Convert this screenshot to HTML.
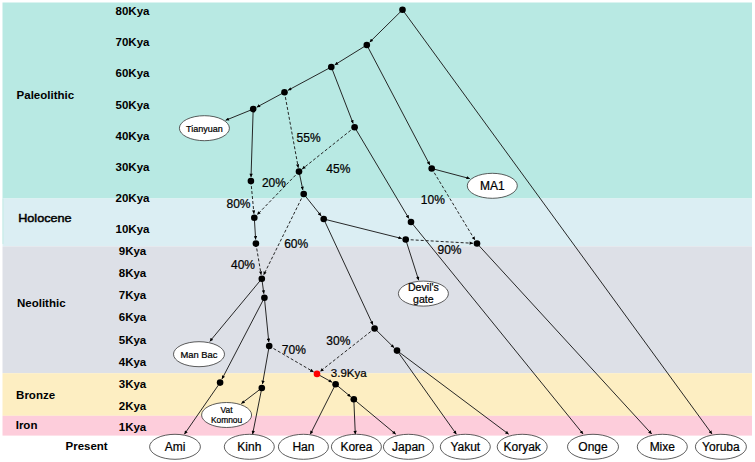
<!DOCTYPE html><html><head><meta charset="utf-8"><style>
html,body{margin:0;padding:0;background:#fff;}
svg{display:block;font-family:"Liberation Sans",sans-serif;}
.r{stroke:#000;stroke-width:0.22px;}
</style></head><body>
<svg width="755" height="462" viewBox="0 0 755 462">
<defs><marker id="ah" viewBox="0 0 10 10" refX="10" refY="5" markerUnits="userSpaceOnUse" markerWidth="4" markerHeight="3.4" orient="auto"><path d="M0,0 L10,5 L0,10 z" fill="#000"/></marker></defs>

<rect x="2.5" y="2.5" width="749.5" height="196.00" fill="#b8e9e3"/>
<rect x="2.5" y="198.5" width="749.5" height="47.90" fill="#dbeef3"/>
<rect x="2.5" y="246.4" width="749.5" height="126.80" fill="#dde0e7"/>
<rect x="2.5" y="373.2" width="749.5" height="42.60" fill="#fdeec2"/>
<rect x="2.5" y="415.8" width="749.5" height="19.80" fill="#fdcddb"/>
<rect x="2.5" y="198.5" width="1" height="45.5" fill="#c4ece6"/>
<text x="16.6" y="99.1" font-size="11.5" font-weight="bold" fill="#000">Paleolithic</text>
<text x="18.2" y="221.9" font-size="11" textLength="53.4" lengthAdjust="spacingAndGlyphs" fill="#000" stroke="#000" stroke-width="0.45">Holocene</text>
<text x="17.0" y="307" font-size="11.5" font-weight="bold" fill="#000">Neolithic</text>
<text x="16.1" y="399.2" font-size="11.5" font-weight="bold" fill="#000">Bronze</text>
<text x="15.7" y="429.4" font-size="11.5" font-weight="bold" fill="#000">Iron</text>
<text x="132.5" y="15.1" font-size="11.5" font-weight="bold" text-anchor="middle" fill="#000">80Kya</text>
<text x="132.5" y="46.2" font-size="11.5" font-weight="bold" text-anchor="middle" fill="#000">70Kya</text>
<text x="132.5" y="77.1" font-size="11.5" font-weight="bold" text-anchor="middle" fill="#000">60Kya</text>
<text x="132.5" y="108.6" font-size="11.5" font-weight="bold" text-anchor="middle" fill="#000">50Kya</text>
<text x="132.5" y="139.7" font-size="11.5" font-weight="bold" text-anchor="middle" fill="#000">40Kya</text>
<text x="132.5" y="170.8" font-size="11.5" font-weight="bold" text-anchor="middle" fill="#000">30Kya</text>
<text x="132.5" y="202" font-size="11.5" font-weight="bold" text-anchor="middle" fill="#000">20Kya</text>
<text x="132.5" y="233.2" font-size="11.5" font-weight="bold" text-anchor="middle" fill="#000">10Kya</text>
<text x="132.5" y="255.2" font-size="11.5" font-weight="bold" text-anchor="middle" fill="#000">9Kya</text>
<text x="132.5" y="277.3" font-size="11.5" font-weight="bold" text-anchor="middle" fill="#000">8Kya</text>
<text x="132.5" y="299.4" font-size="11.5" font-weight="bold" text-anchor="middle" fill="#000">7Kya</text>
<text x="132.5" y="321.4" font-size="11.5" font-weight="bold" text-anchor="middle" fill="#000">6Kya</text>
<text x="132.5" y="343.5" font-size="11.5" font-weight="bold" text-anchor="middle" fill="#000">5Kya</text>
<text x="132.5" y="365.5" font-size="11.5" font-weight="bold" text-anchor="middle" fill="#000">4Kya</text>
<text x="132.5" y="387.5" font-size="11.5" font-weight="bold" text-anchor="middle" fill="#000">3Kya</text>
<text x="132.5" y="409.6" font-size="11.5" font-weight="bold" text-anchor="middle" fill="#000">2Kya</text>
<text x="132.5" y="431.4" font-size="11.5" font-weight="bold" text-anchor="middle" fill="#000">1Kya</text>
<text x="65.5" y="449.8" font-size="11.5" font-weight="bold" fill="#000">Present</text>
<line x1="402.5" y1="9.8" x2="369.65" y2="42.19" stroke="#1c1c1c" stroke-width="0.95" marker-end="url(#ah)"/>
<line x1="402.5" y1="9.8" x2="712.00" y2="434.00" stroke="#1c1c1c" stroke-width="0.95" marker-end="url(#ah)"/>
<line x1="366.8" y1="45" x2="334.70" y2="64.89" stroke="#1c1c1c" stroke-width="0.95" marker-end="url(#ah)"/>
<line x1="366.8" y1="45" x2="429.84" y2="164.96" stroke="#1c1c1c" stroke-width="0.95" marker-end="url(#ah)"/>
<line x1="331.3" y1="67" x2="288.02" y2="90.30" stroke="#1c1c1c" stroke-width="0.95" marker-end="url(#ah)"/>
<line x1="331.3" y1="67" x2="353.16" y2="123.47" stroke="#1c1c1c" stroke-width="0.95" marker-end="url(#ah)"/>
<line x1="284.5" y1="92.2" x2="256.72" y2="107.20" stroke="#1c1c1c" stroke-width="0.95" marker-end="url(#ah)"/>
<line x1="284.5" y1="92.2" x2="298.28" y2="167.67" stroke="#1c1c1c" stroke-width="0.95" stroke-dasharray="3,2" marker-end="url(#ah)"/>
<line x1="253.2" y1="109.1" x2="225.60" y2="120.30" stroke="#1c1c1c" stroke-width="0.95" marker-end="url(#ah)"/>
<line x1="253.2" y1="109.1" x2="251.03" y2="177.10" stroke="#1c1c1c" stroke-width="0.95" marker-end="url(#ah)"/>
<line x1="354.6" y1="127.2" x2="302.13" y2="169.10" stroke="#1c1c1c" stroke-width="0.95" stroke-dasharray="3,2" marker-end="url(#ah)"/>
<line x1="354.6" y1="127.2" x2="408.95" y2="218.56" stroke="#1c1c1c" stroke-width="0.95" marker-end="url(#ah)"/>
<line x1="431.7" y1="168.5" x2="469.80" y2="178.60" stroke="#1c1c1c" stroke-width="0.95" marker-end="url(#ah)"/>
<line x1="431.7" y1="168.5" x2="474.93" y2="240.08" stroke="#1c1c1c" stroke-width="0.95" stroke-dasharray="3,2" marker-end="url(#ah)"/>
<line x1="299" y1="171.6" x2="302.88" y2="190.09" stroke="#1c1c1c" stroke-width="0.95" marker-end="url(#ah)"/>
<line x1="299" y1="171.6" x2="257.08" y2="214.83" stroke="#1c1c1c" stroke-width="0.95" stroke-dasharray="3,2" marker-end="url(#ah)"/>
<line x1="250.9" y1="181.1" x2="253.93" y2="213.72" stroke="#1c1c1c" stroke-width="0.95" stroke-dasharray="3,2" marker-end="url(#ah)"/>
<line x1="303.7" y1="194" x2="321.20" y2="215.88" stroke="#1c1c1c" stroke-width="0.95" marker-end="url(#ah)"/>
<line x1="303.7" y1="194" x2="263.57" y2="275.11" stroke="#1c1c1c" stroke-width="0.95" stroke-dasharray="3,2" marker-end="url(#ah)"/>
<line x1="254.3" y1="217.7" x2="255.65" y2="239.61" stroke="#1c1c1c" stroke-width="0.95" marker-end="url(#ah)"/>
<line x1="255.9" y1="243.6" x2="261.14" y2="274.76" stroke="#1c1c1c" stroke-width="0.95" stroke-dasharray="3,2" marker-end="url(#ah)"/>
<line x1="323.7" y1="219" x2="401.82" y2="238.53" stroke="#1c1c1c" stroke-width="0.95" marker-end="url(#ah)"/>
<line x1="323.7" y1="219" x2="372.91" y2="324.87" stroke="#1c1c1c" stroke-width="0.95" marker-end="url(#ah)"/>
<line x1="411" y1="222" x2="583.10" y2="434.00" stroke="#1c1c1c" stroke-width="0.95" marker-end="url(#ah)"/>
<line x1="405.7" y1="239.5" x2="473.01" y2="243.28" stroke="#1c1c1c" stroke-width="0.95" stroke-dasharray="3,2" marker-end="url(#ah)"/>
<line x1="405.7" y1="239.5" x2="418.70" y2="280.30" stroke="#1c1c1c" stroke-width="0.95" marker-end="url(#ah)"/>
<line x1="477" y1="243.5" x2="651.70" y2="434.00" stroke="#1c1c1c" stroke-width="0.95" marker-end="url(#ah)"/>
<line x1="261.8" y1="278.7" x2="263.86" y2="293.74" stroke="#1c1c1c" stroke-width="0.95" marker-end="url(#ah)"/>
<line x1="261.8" y1="278.7" x2="209.80" y2="341.40" stroke="#1c1c1c" stroke-width="0.95" marker-end="url(#ah)"/>
<line x1="264.4" y1="297.7" x2="268.80" y2="342.02" stroke="#1c1c1c" stroke-width="0.95" marker-end="url(#ah)"/>
<line x1="264.4" y1="297.7" x2="221.95" y2="379.05" stroke="#1c1c1c" stroke-width="0.95" marker-end="url(#ah)"/>
<line x1="374.6" y1="328.5" x2="394.15" y2="347.79" stroke="#1c1c1c" stroke-width="0.95" marker-end="url(#ah)"/>
<line x1="374.6" y1="328.5" x2="320.14" y2="371.42" stroke="#1c1c1c" stroke-width="0.95" stroke-dasharray="3,2" marker-end="url(#ah)"/>
<line x1="269.2" y1="346" x2="313.55" y2="371.88" stroke="#1c1c1c" stroke-width="0.95" stroke-dasharray="3,2" marker-end="url(#ah)"/>
<line x1="269.2" y1="346" x2="262.49" y2="384.06" stroke="#1c1c1c" stroke-width="0.95" marker-end="url(#ah)"/>
<line x1="397" y1="350.6" x2="456.40" y2="434.20" stroke="#1c1c1c" stroke-width="0.95" marker-end="url(#ah)"/>
<line x1="397" y1="350.6" x2="508.70" y2="434.20" stroke="#1c1c1c" stroke-width="0.95" marker-end="url(#ah)"/>
<line x1="317" y1="373.9" x2="332.10" y2="382.26" stroke="#1c1c1c" stroke-width="0.95" marker-end="url(#ah)"/>
<line x1="335.6" y1="384.2" x2="350.72" y2="396.75" stroke="#1c1c1c" stroke-width="0.95" marker-end="url(#ah)"/>
<line x1="335.6" y1="384.2" x2="310.30" y2="434.20" stroke="#1c1c1c" stroke-width="0.95" marker-end="url(#ah)"/>
<line x1="353.8" y1="399.3" x2="355.30" y2="434.20" stroke="#1c1c1c" stroke-width="0.95" marker-end="url(#ah)"/>
<line x1="353.8" y1="399.3" x2="395.80" y2="434.20" stroke="#1c1c1c" stroke-width="0.95" marker-end="url(#ah)"/>
<line x1="261.8" y1="388" x2="241.30" y2="403.60" stroke="#1c1c1c" stroke-width="0.95" marker-end="url(#ah)"/>
<line x1="261.8" y1="388" x2="252.60" y2="434.20" stroke="#1c1c1c" stroke-width="0.95" marker-end="url(#ah)"/>
<line x1="220.1" y1="382.6" x2="184.40" y2="434.20" stroke="#1c1c1c" stroke-width="0.95" marker-end="url(#ah)"/>
<circle cx="402.5" cy="9.8" r="3.3" fill="#000"/>
<circle cx="366.8" cy="45" r="3.3" fill="#000"/>
<circle cx="331.3" cy="67" r="3.3" fill="#000"/>
<circle cx="284.5" cy="92.2" r="3.3" fill="#000"/>
<circle cx="253.2" cy="109.1" r="3.3" fill="#000"/>
<circle cx="354.6" cy="127.2" r="3.3" fill="#000"/>
<circle cx="431.7" cy="168.5" r="3.3" fill="#000"/>
<circle cx="299" cy="171.6" r="3.3" fill="#000"/>
<circle cx="250.9" cy="181.1" r="3.3" fill="#000"/>
<circle cx="303.7" cy="194" r="3.3" fill="#000"/>
<circle cx="254.3" cy="217.7" r="3.3" fill="#000"/>
<circle cx="323.7" cy="219" r="3.3" fill="#000"/>
<circle cx="411" cy="222" r="3.3" fill="#000"/>
<circle cx="405.7" cy="239.5" r="3.3" fill="#000"/>
<circle cx="255.9" cy="243.6" r="3.3" fill="#000"/>
<circle cx="477" cy="243.5" r="3.3" fill="#000"/>
<circle cx="261.8" cy="278.7" r="3.3" fill="#000"/>
<circle cx="264.4" cy="297.7" r="3.3" fill="#000"/>
<circle cx="374.6" cy="328.5" r="3.3" fill="#000"/>
<circle cx="269.2" cy="346" r="3.3" fill="#000"/>
<circle cx="397" cy="350.6" r="3.3" fill="#000"/>
<circle cx="317" cy="373.9" r="3.3" fill="#f00"/>
<circle cx="220.1" cy="382.6" r="3.3" fill="#000"/>
<circle cx="335.6" cy="384.2" r="3.3" fill="#000"/>
<circle cx="261.8" cy="388" r="3.3" fill="#000"/>
<circle cx="353.8" cy="399.3" r="3.3" fill="#000"/>
<ellipse cx="204.4" cy="128.2" rx="25" ry="12.5" fill="#fff" stroke="#333" stroke-width="0.8"/>
<text x="204.4" y="131.84" font-size="9" text-anchor="middle" fill="#000" class="r">Tianyuan</text>
<ellipse cx="492.3" cy="185.8" rx="25" ry="12.5" fill="#fff" stroke="#333" stroke-width="0.8"/>
<text x="492.3" y="190.12" font-size="12" text-anchor="middle" fill="#000" class="r">MA1</text>
<ellipse cx="423.4" cy="293.6" rx="25" ry="12.5" fill="#fff" stroke="#333" stroke-width="0.8"/>
<text x="423.4" y="291.09" font-size="10.6" text-anchor="middle" fill="#000" class="r">Devil's</text>
<text x="423.4" y="302.75" font-size="10.6" text-anchor="middle" fill="#000" class="r">gate</text>
<ellipse cx="199" cy="354.2" rx="25.5" ry="12.5" fill="#fff" stroke="#333" stroke-width="0.8"/>
<text x="199" y="357.58" font-size="9.4" text-anchor="middle" fill="#000" class="r">Man Bac</text>
<ellipse cx="226.6" cy="415" rx="25" ry="12.5" fill="#fff" stroke="#333" stroke-width="0.8"/>
<text x="226.6" y="413.40" font-size="8.4" text-anchor="middle" fill="#000" class="r">Vat</text>
<text x="226.6" y="422.64" font-size="8.4" text-anchor="middle" fill="#000" class="r">Komnou</text>
<ellipse cx="175" cy="446.8" rx="25.4" ry="12.5" fill="#fff" stroke="#333" stroke-width="0.8"/>
<text x="175" y="451.12" font-size="12" text-anchor="middle" fill="#000" class="r">Ami</text>
<ellipse cx="249.3" cy="446.8" rx="25" ry="12.5" fill="#fff" stroke="#333" stroke-width="0.8"/>
<text x="249.3" y="451.12" font-size="12" text-anchor="middle" fill="#000" class="r">Kinh</text>
<ellipse cx="303.4" cy="446.8" rx="25" ry="12.5" fill="#fff" stroke="#333" stroke-width="0.8"/>
<text x="303.4" y="451.12" font-size="12" text-anchor="middle" fill="#000" class="r">Han</text>
<ellipse cx="356.4" cy="446.8" rx="25" ry="12.5" fill="#fff" stroke="#333" stroke-width="0.8"/>
<text x="356.4" y="451.12" font-size="12" text-anchor="middle" fill="#000" class="r">Korea</text>
<ellipse cx="408.4" cy="446.8" rx="25" ry="12.5" fill="#fff" stroke="#333" stroke-width="0.8"/>
<text x="408.4" y="451.12" font-size="12" text-anchor="middle" fill="#000" class="r">Japan</text>
<ellipse cx="465.3" cy="446.8" rx="25" ry="12.5" fill="#fff" stroke="#333" stroke-width="0.8"/>
<text x="465.3" y="451.12" font-size="12" text-anchor="middle" fill="#000" class="r">Yakut</text>
<ellipse cx="522.2" cy="446.8" rx="25" ry="12.5" fill="#fff" stroke="#333" stroke-width="0.8"/>
<text x="522.2" y="451.12" font-size="12" text-anchor="middle" fill="#000" class="r">Koryak</text>
<ellipse cx="593" cy="446.8" rx="25.5" ry="12.5" fill="#fff" stroke="#333" stroke-width="0.8"/>
<text x="593" y="451.12" font-size="12" text-anchor="middle" fill="#000" class="r">Onge</text>
<ellipse cx="662.3" cy="446.8" rx="25" ry="12.5" fill="#fff" stroke="#333" stroke-width="0.8"/>
<text x="662.3" y="451.12" font-size="12" text-anchor="middle" fill="#000" class="r">Mixe</text>
<ellipse cx="720.9" cy="446.8" rx="25.5" ry="12.5" fill="#fff" stroke="#333" stroke-width="0.8"/>
<text x="720.9" y="451.12" font-size="12" text-anchor="middle" fill="#000" class="r">Yoruba</text>
<text x="296.6" y="141.5" font-size="12" fill="#000" class="r">55%</text>
<text x="326.3" y="172.7" font-size="12" fill="#000" class="r">45%</text>
<text x="261.9" y="187.3" font-size="12" fill="#000" class="r">20%</text>
<text x="226.5" y="207.9" font-size="12" fill="#000" class="r">80%</text>
<text x="284.2" y="248.1" font-size="12" fill="#000" class="r">60%</text>
<text x="231" y="269.3" font-size="12" fill="#000" class="r">40%</text>
<text x="420.8" y="204.3" font-size="12" fill="#000" class="r">10%</text>
<text x="437.5" y="253.8" font-size="12" fill="#000" class="r">90%</text>
<text x="281.8" y="354.2" font-size="12" fill="#000" class="r">70%</text>
<text x="326.3" y="345" font-size="12" fill="#000" class="r">30%</text>
<text x="330.8" y="376.8" font-size="11.5" fill="#000" class="r">3.9Kya</text>
</svg></body></html>
